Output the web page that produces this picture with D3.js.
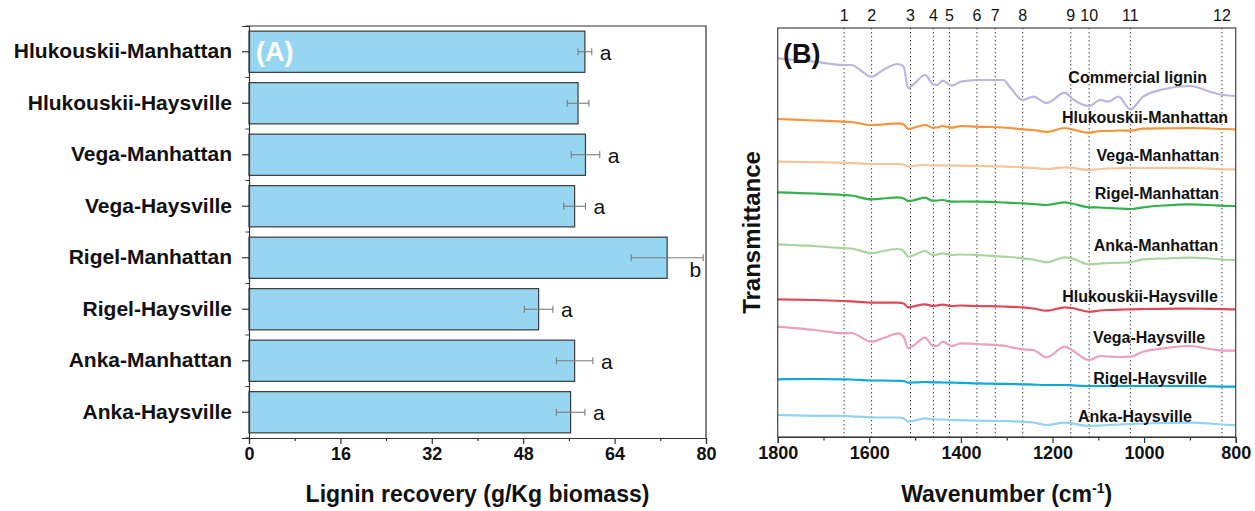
<!DOCTYPE html>
<html>
<head>
<meta charset="utf-8">
<script src="https://cdn.jsdelivr.net/npm/d3@7"></script>
<style>
  body { margin: 0; background: #fff; }
  text { font-family: Arial, "Liberation Sans", sans-serif; }
</style>
</head>
<body>
<script>
// ---------- panel A data ----------
var cultivars = ['Hlukouskii-Manhattan', 'Hlukouskii-Haysville', 'Vega-Manhattan', 'Vega-Haysville',
  'Rigel-Manhattan', 'Rigel-Haysville', 'Anka-Manhattan', 'Anka-Haysville']
var recovery = [58.8, 57.6, 58.9, 57.0, 73.2, 50.7, 57.0, 56.3]   // g/Kg biomass
var recoveryErr = [1.2, 1.9, 2.5, 1.9, 6.3, 2.5, 3.2, 2.5]
var letters = ['a', '', 'a', 'a', 'b', 'a', 'a', 'a']
var recoveryTicks = [0, 16, 32, 48, 64, 80]

// ---------- panel B data ----------
var wavenumber = [1800, 1720, 1655, 1640, 1595, 1570, 1537, 1525, 1515, 1505, 1478, 1462, 1452, 1440, 1420,
  1400, 1365, 1307, 1293, 1265, 1242, 1213, 1173, 1158, 1120, 1096, 1078, 1056, 1030, 1002, 958, 900, 856, 828, 800]
var seriesNames = ['Commercial lignin', 'Hlukouskii-Manhattan', 'Vega-Manhattan', 'Rigel-Manhattan', 'Anka-Manhattan',
  'Hlukouskii-Haysville', 'Vega-Haysville', 'Rigel-Haysville', 'Anka-Haysville']
var seriesColors = ['#bab6dd', '#f5943b', '#f7c39a', '#33b24b', '#aad59c', '#e04858', '#eca0c0', '#0ba8e0', '#90d4f1']
// transmittance (a.u., stacked with offsets as in the figure)
var commercial = [378.7, 375.3, 372, 372, 360.3, 367, 373, 370.3, 348.7, 352, 362, 353, 352, 356.3, 351.3, 355.3, 357, 357, 350, 337, 340.3, 334, 344.3, 338.7, 331, 337, 335.3, 340.3, 327.7, 340.3, 347.7, 351, 345.3, 342, 341]
var hlukManhattan = [318, 316.5, 315.3, 315, 312, 312.5, 313.7, 312.5, 308, 309, 312, 309.3, 309.5, 311, 309.3, 311, 310.3, 309.5, 309, 307.7, 307, 305, 309, 307.7, 304.3, 306, 306, 306.5, 306.3, 308.3, 308.7, 309, 308.5, 308, 307.7]
var vegaManhattan = [275.3, 274.8, 274.3, 274, 273, 273, 273, 272.5, 270.3, 271, 272, 271.5, 271.5, 271.7, 271.3, 271.3, 271, 270.5, 270.2, 269.7, 269, 268, 269.7, 269.2, 267, 268, 268.5, 268.7, 269, 269, 269, 269, 268.3, 267.7, 267.7]
var rigelManhattan = [244.7, 243.5, 242, 241.5, 237.7, 238.5, 239.7, 238.5, 236, 236.5, 239.3, 236.3, 236.5, 237, 235.3, 235.5, 235.3, 234.5, 234.2, 233.7, 233, 232, 234.7, 233.5, 229.7, 229.5, 229, 228.5, 228, 229.7, 231.5, 232.7, 232, 231.2, 231]
var ankaManhattan = [192.7, 191, 188.7, 188.5, 183.7, 186, 188, 186, 180.3, 181.5, 186, 182, 182.5, 183.7, 182, 182.5, 182, 180.3, 180, 178.7, 177.5, 174.7, 179.7, 178.7, 172.7, 173.5, 174, 174.2, 174.7, 177.7, 178.5, 179.3, 178.5, 177.5, 177]
var hlukHaysville = [137.7, 137, 136, 135.7, 134.3, 134.3, 134.3, 133.5, 129.7, 130.5, 132.7, 131, 131.5, 132.3, 131, 131.5, 131, 130.5, 130.2, 129.7, 128.5, 126.3, 129.7, 129, 125.3, 126.5, 127, 127.3, 127.7, 128, 128.2, 128.3, 128.2, 127.8, 127.7]
var vegaHaysville = [110.3, 107, 103.7, 104, 95.3, 98.7, 103.7, 100.3, 88.7, 91, 99.3, 91.3, 91, 95.3, 91, 93.7, 93, 91.3, 90, 87.7, 87, 79.7, 90.3, 87, 77, 81, 80.5, 80, 80.3, 85.3, 88.7, 91, 88, 86.3, 86.3]
var rigelHaysville = [57.7, 58, 57.7, 57.5, 56.5, 56.5, 56.2, 56, 54.3, 54.5, 55, 54.7, 54.7, 54.5, 54.3, 54.2, 53.7, 53.2, 53, 52.7, 52.4, 52, 52, 51.7, 51, 51, 51, 51, 51, 51, 51, 51, 50.7, 50.4, 50.3]
var ankaHaysville = [22, 21.2, 21, 20.7, 19.7, 19.5, 19.5, 18.5, 15.3, 16, 18.7, 17.7, 17.5, 17.5, 17, 16.8, 16.3, 16, 15.8, 15.3, 14.5, 12, 14.3, 13.7, 11, 11.5, 12, 12.5, 13, 13.5, 14, 14.3, 13.5, 12.5, 12]
var spectra = [commercial, hlukManhattan, vegaManhattan, rigelManhattan, ankaManhattan, hlukHaysville, vegaHaysville, rigelHaysville, ankaHaysville]
// where each spectrum name sits (wavenumber, transmittance)
var labelWn = [1014, 998, 970, 972, 974, 1009, 989, 987, 1020]
var labelT = [359.7, 320, 281.3, 243.7, 191.3, 141, 99.7, 58.7, 21]
// marked bands 1-12
var bands = [1655, 1595, 1510, 1460, 1425, 1365, 1325, 1265, 1160, 1120, 1030, 830]
var wnTicks = [1800, 1600, 1400, 1200, 1000, 800]
var wnMinor = [1700, 1500, 1300, 1100, 900]

var W = 1255, H = 511
var svg = d3.select('body').append('svg').attr('width', W).attr('height', H)

// =============== panel A ===============
var A = {left: 249, right: 706, top: 26, bottom: 438}

var x = d3.scaleLinear().domain([0, 80]).range([A.left, A.right])
var y = d3.scaleBand().domain(cultivars).range([A.top, A.bottom]).paddingInner(0.2).paddingOuter(0.1)

var gA = svg.append('g')

gA.selectAll('rect.bar')
  .data(cultivars)
  .enter().append('rect')
  .attr('class', 'bar')
  .attr('x', x(0))
  .attr('y', d => y(d))
  .attr('width', (d, i) => x(recovery[i]) - x(0))
  .attr('height', y.bandwidth())
  .attr('fill', '#97d6f0')
  .attr('stroke', '#3a3a3a')
  .attr('stroke-width', 1.2)

// error bars
var err = gA.selectAll('g.err').data(cultivars).enter().append('g')
  .attr('transform', d => `translate(0,${y(d) + y.bandwidth() / 2})`)
  .attr('stroke', '#7a7a7a').attr('stroke-width', 1.1)
err.append('line')
  .attr('x1', (d, i) => x(recovery[i] - recoveryErr[i]))
  .attr('x2', (d, i) => x(recovery[i] + recoveryErr[i]))
err.append('line')
  .attr('x1', (d, i) => x(recovery[i] - recoveryErr[i])).attr('x2', (d, i) => x(recovery[i] - recoveryErr[i]))
  .attr('y1', -3.5).attr('y2', 3.5)
err.append('line')
  .attr('x1', (d, i) => x(recovery[i] + recoveryErr[i])).attr('x2', (d, i) => x(recovery[i] + recoveryErr[i]))
  .attr('y1', -3.5).attr('y2', 3.5)

// significance letters
gA.selectAll('text.sig').data(cultivars).enter().append('text')
  .attr('class', 'sig')
  .attr('x', (d, i) => letters[i] === 'b' ? x(recovery[i] + recoveryErr[i]) - 2 : x(recovery[i] + recoveryErr[i]) + 8)
  .attr('y', (d, i) => y(d) + y.bandwidth() / 2 + (letters[i] === 'b' ? 19 : 8))
  .attr('text-anchor', (d, i) => letters[i] === 'b' ? 'end' : 'start')
  .attr('font-size', 21)
  .attr('fill', '#111')
  .text((d, i) => letters[i])

// frame (top + right)
gA.append('path')
  .attr('d', `M${A.left},${A.top}H${A.right}V${A.bottom}`)
  .attr('fill', 'none').attr('stroke', '#333').attr('stroke-width', 1.2)

// axes
var yAxisA = d3.axisLeft(y).tickSize(7).tickPadding(10)
var gyA = gA.append('g').attr('transform', `translate(${A.left},0)`).call(yAxisA)
gyA.selectAll('text').attr('font-size', 21).attr('font-weight', 'bold').attr('fill', '#111').attr('font-family', 'Arial, "Liberation Sans", sans-serif')
// minor ticks between categories
gyA.selectAll('line.minor')
  .data(d3.range(cultivars.length + 1))
  .enter().append('line')
  .attr('class', 'minor')
  .attr('x1', -3.5).attr('x2', 0)
  .attr('y1', i => A.top + y.step() * y.paddingOuter() - y.step() * y.paddingInner() / 2 + i * y.step())
  .attr('y2', i => A.top + y.step() * y.paddingOuter() - y.step() * y.paddingInner() / 2 + i * y.step())
  .attr('stroke', '#333')

var xAxisA = d3.axisBottom(x).tickValues(recoveryTicks).tickSize(6).tickPadding(3)
var gxA = gA.append('g').attr('transform', `translate(0,${A.bottom})`).call(xAxisA)
gxA.selectAll('text').attr('font-size', 18).attr('font-weight', 'bold').attr('fill', '#111').attr('font-family', 'Arial, "Liberation Sans", sans-serif')
gA.append('g').attr('transform', `translate(0,${A.bottom})`)
  .call(d3.axisBottom(x).tickValues([8, 24, 40, 56, 72]).tickSize(3).tickFormat(''))
  .select('.domain').remove()
gA.selectAll('.domain, .tick line').attr('stroke', '#333').attr('stroke-width', 1.2)

gA.append('text')
  .attr('x', (A.left + A.right) / 2).attr('y', 502)
  .attr('text-anchor', 'middle').attr('font-size', 23).attr('font-weight', 'bold').attr('fill', '#111')
  .text('Lignin recovery (g/Kg biomass)')

gA.append('text')
  .attr('x', 256).attr('y', 61)
  .attr('font-size', 27).attr('font-weight', 'bold').attr('fill', '#fff')
  .text('(A)')

// =============== panel B ===============
var B = {left: 777.7, right: 1235.7, top: 28, bottom: 437}

var xw = d3.scaleLinear().domain([1800, 800]).range([B.left, B.right])
var yt = d3.scaleLinear().domain([0, 409]).range([B.bottom, B.top])

var gB = svg.append('g')

// band markers
gB.selectAll('line.band').data(bands).enter().append('line')
  .attr('x1', d => xw(d)).attr('x2', d => xw(d))
  .attr('y1', B.top).attr('y2', B.bottom)
  .attr('stroke', '#333').attr('stroke-width', 1).attr('stroke-dasharray', '1.3,2.7')
gB.selectAll('text.band').data(bands).enter().append('text')
  .attr('x', d => xw(d)).attr('y', 21)
  .attr('text-anchor', 'middle').attr('font-size', 16).attr('fill', '#111')
  .text((d, i) => i + 1)

var line = d3.line()
  .x((d, i) => xw(wavenumber[i]))
  .y(d => yt(d))
  .curve(d3.curveMonotoneX)

gB.selectAll('path.spec').data(spectra).enter().append('path')
  .attr('class', 'spec')
  .attr('d', d => line(d))
  .attr('fill', 'none')
  .attr('stroke', (d, i) => seriesColors[i])
  .attr('stroke-width', 2.2)
  .attr('stroke-linejoin', 'round')

gB.selectAll('text.name').data(seriesNames).enter().append('text')
  .attr('x', (d, i) => xw(labelWn[i]))
  .attr('y', (d, i) => yt(labelT[i]))
  .attr('dy', '0.35em')
  .attr('text-anchor', 'middle').attr('font-size', 16).attr('font-weight', 'bold').attr('fill', '#111')
  .text(d => d)

gB.append('rect')
  .attr('x', B.left).attr('y', B.top).attr('width', B.right - B.left).attr('height', B.bottom - B.top)
  .attr('fill', 'none').attr('stroke', '#444').attr('stroke-width', 1.2)

var gxB = gB.append('g').attr('transform', `translate(0,${B.bottom})`)
  .call(d3.axisBottom(xw).tickValues(wnTicks).tickSize(6).tickPadding(3).tickFormat(d3.format('d')))
gxB.selectAll('text').attr('font-size', 18).attr('font-weight', 'bold').attr('fill', '#111').attr('font-family', 'Arial, "Liberation Sans", sans-serif')
gB.append('g').attr('transform', `translate(0,${B.bottom})`)
  .call(d3.axisBottom(xw).tickValues(wnMinor).tickSize(3.5).tickFormat(''))
  .select('.domain').remove()
gB.selectAll('.domain, .tick line').attr('stroke', '#333').attr('stroke-width', 1.2)

var xt = gB.append('text')
  .attr('x', (B.left + B.right) / 2).attr('y', 502)
  .attr('text-anchor', 'middle').attr('font-size', 23).attr('font-weight', 'bold').attr('fill', '#111')
xt.append('tspan').text('Wavenumber (cm')
xt.append('tspan').attr('dy', -9).attr('font-size', 14).text('-1')
xt.append('tspan').attr('dy', 9).text(')')

gB.append('text')
  .attr('transform', `translate(760,${(B.top + B.bottom) / 2}) rotate(-90)`)
  .attr('text-anchor', 'middle').attr('font-size', 24).attr('font-weight', 'bold').attr('fill', '#111')
  .text('Transmittance')

gB.append('text')
  .attr('x', 783).attr('y', 63)
  .attr('font-size', 27).attr('font-weight', 'bold').attr('fill', '#111')
  .text('(B)')
</script>
</body>
</html>
